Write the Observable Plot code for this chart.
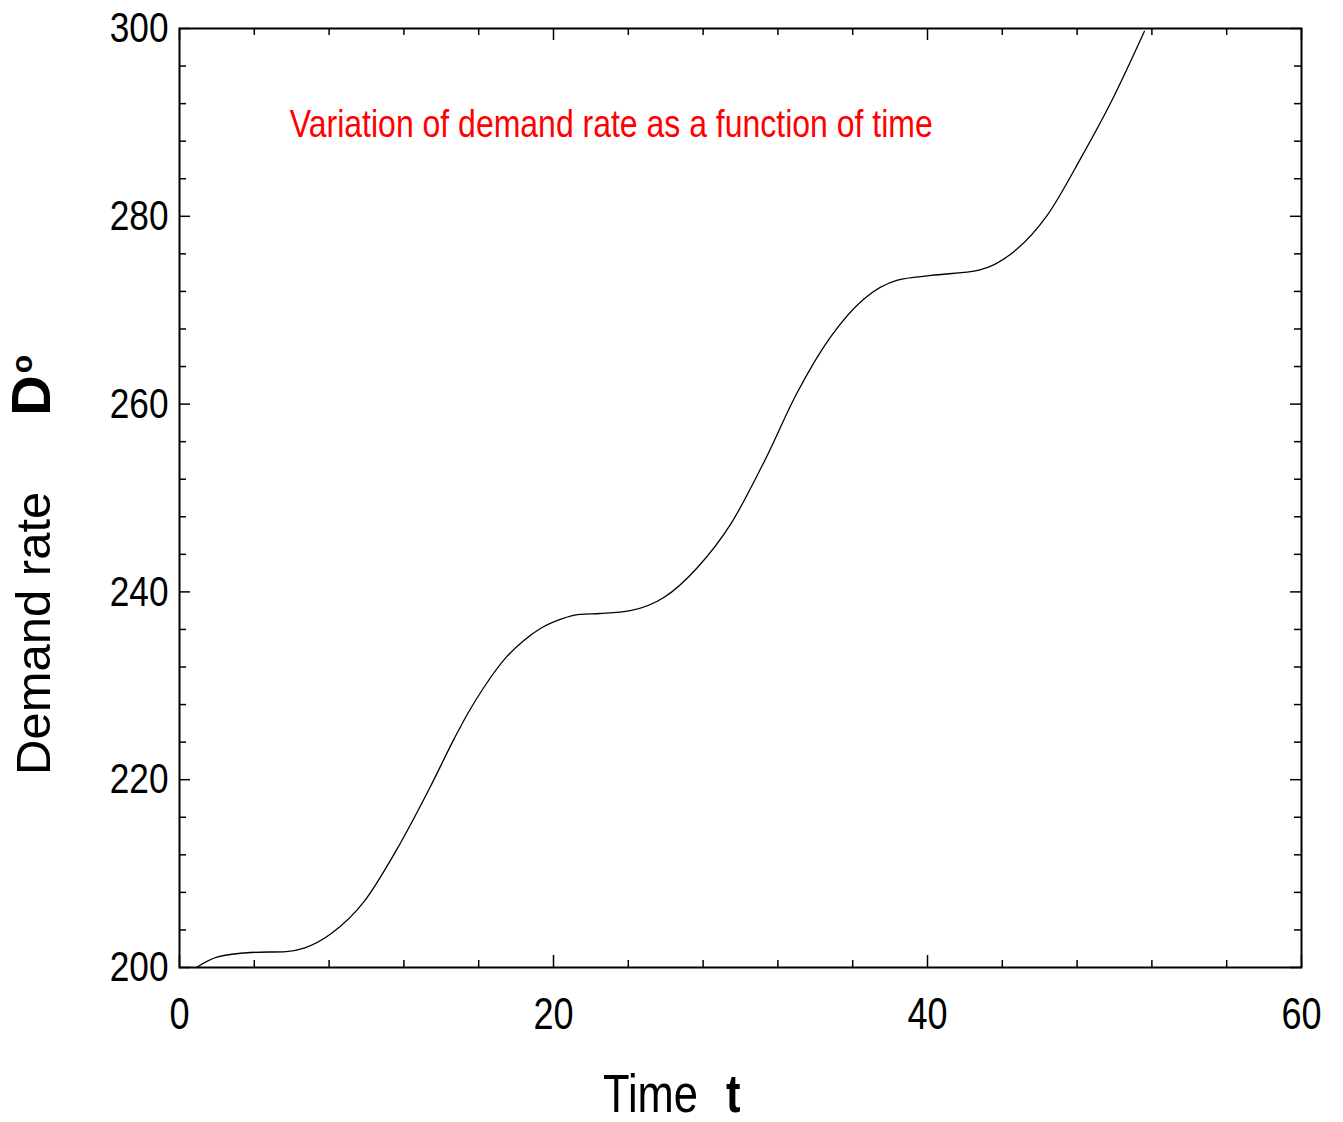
<!DOCTYPE html>
<html><head><meta charset="utf-8">
<script src="https://cdn.jsdelivr.net/npm/d3@7"></script>
<script src="https://cdn.jsdelivr.net/npm/@observablehq/plot@0.6"></script>
<style>body{margin:0;background:#fff} #chart svg{display:block}</style>
</head><body><div id="chart"></div>
<script>
// Data
const time   = [0.9, 2.0, 3.8, 5.7, 6.7, 8.1, 9.9, 11.6, 13.4, 14.7, 15.4, 16.3, 17.5, 18.4, 19.3, 20.4, 21.4, 22.5, 24.1, 25.9, 27.7, 29.5, 31.3, 33.0, 34.8, 36.6, 38.4, 40.2, 42.8, 44.6, 46.4, 48.2, 50.0, 51.6];
const demand = [200.0, 201.1, 201.6, 201.7, 202.1, 203.6, 207.1, 212.5, 219.2, 224.4, 227.0, 229.9, 233.1, 234.8, 236.1, 237.1, 237.6, 237.7, 238.0, 239.4, 242.6, 247.3, 254.0, 261.1, 267.1, 271.2, 273.2, 273.7, 274.3, 276.2, 280.1, 286.2, 292.9, 299.7];
const xMajorTicks = [0, 20, 40, 60];
const xMinorTicks = [4, 8, 12, 16, 24, 28, 32, 36, 44, 48, 52, 56];
const yMajorTicks = [200, 220, 240, 260, 280, 300];
const yMinorTicks = [204, 208, 212, 216, 224, 228, 232, 236, 244, 248, 252, 256, 264, 268, 272, 276, 284, 288, 292, 296];
const annotation = ["Variation of demand rate as a function of time"];
const xTitle = "Time", xSymbol = "t";
const yTitle = "Demand rate", ySymbol = "D", ySub = "o";

const data = time.map((t, i) => ({t, d: demand[i]}));
const W = 1343, H = 1122, mL = 179, mR = 42, mT = 28, mB = 155;
const fw = W - mL - mR, fh = H - mT - mB;
const sans = "'Liberation Sans', Arial, sans-serif";
const tk = {stroke: "black", strokeWidth: 1.5};
const NARROW = 0.82;

const plot = Plot.plot({
  width: W, height: H,
  marginLeft: mL, marginRight: mR, marginTop: mT, marginBottom: mB,
  style: {fontFamily: sans, fontSize: "43px", color: "black", background: "white", overflow: "visible"},
  x: {domain: [0, 60]},
  y: {domain: [200, 300]},
  marks: [
    Plot.line(data, {x: "t", y: "d", stroke: "black", strokeWidth: 1.3, curve: "monotone-x"}),
    Plot.tickX(xMinorTicks, {x: d => d, insetTop: fh - 7, ...tk}),
    Plot.tickX(xMajorTicks, {x: d => d, insetTop: fh - 12, ...tk}),
    Plot.tickX(xMinorTicks, {x: d => d, insetBottom: fh - 7, ...tk}),
    Plot.tickX(xMajorTicks, {x: d => d, insetBottom: fh - 12, ...tk}),
    Plot.tickY(yMinorTicks, {y: d => d, insetRight: fw - 7, ...tk}),
    Plot.tickY(yMajorTicks, {y: d => d, insetRight: fw - 11, ...tk}),
    Plot.tickY(yMinorTicks, {y: d => d, insetLeft: fw - 7, ...tk}),
    Plot.tickY(yMajorTicks, {y: d => d, insetLeft: fw - 11, ...tk}),
    Plot.axisX({ticks: xMajorTicks, tickSize: 0, tickPadding: 30, label: null, fontSize: 44, tickFormat: d => String(d)}),
    Plot.axisY({ticks: yMajorTicks, tickSize: 0, tickPadding: 11, label: null, fontSize: 43, tickFormat: d => String(d)}),
    Plot.text(annotation, {x: () => 5.9, y: () => 289.8, text: d => d, textAnchor: "start", fill: "#ff0000", fontSize: 39}),
    Plot.frame({stroke: "black", strokeWidth: 2})
  ]
});
document.getElementById("chart").appendChild(plot);

const svg = d3.select(plot);
// Condense the narrow-font texts (tick labels, annotation, x title)
function condense(sel, f = NARROW) {
  sel.each(function () {
    const w = this.getComputedTextLength();
    if (w > 0) {
      this.setAttribute("textLength", (w * f).toFixed(1));
      this.setAttribute("lengthAdjust", "spacingAndGlyphs");
    }
  });
}
condense(svg.selectAll("g[aria-label='x-axis tick label'] text, g[aria-label='y-axis tick label'] text, g[aria-label='text'] text"));

const xt1 = svg.append("text")
  .attr("x", 603).attr("y", 1112).attr("text-anchor", "start")
  .attr("font-family", sans).attr("font-size", 53).attr("fill", "black")
  .text(xTitle);
condense(xt1);
const xt2 = svg.append("text")
  .attr("x", 726).attr("y", 1112).attr("text-anchor", "start")
  .attr("font-family", sans).attr("font-size", 53).attr("font-weight", "bold").attr("fill", "black")
  .text(xSymbol);
condense(xt2);

const yt = svg.append("text")
  .attr("transform", "translate(50,775) rotate(-90)").attr("text-anchor", "start")
  .attr("font-family", sans).attr("font-size", 49).attr("fill", "black");
yt.append("tspan").text(yTitle);
yt.append("tspan").attr("dx", 76).attr("font-weight", "bold").attr("font-size", 56).text(ySymbol);
yt.append("tspan").attr("dx", 2).attr("dy", -18).attr("font-weight", "bold").attr("font-size", 30).text(ySub);
</script>
</body></html>
